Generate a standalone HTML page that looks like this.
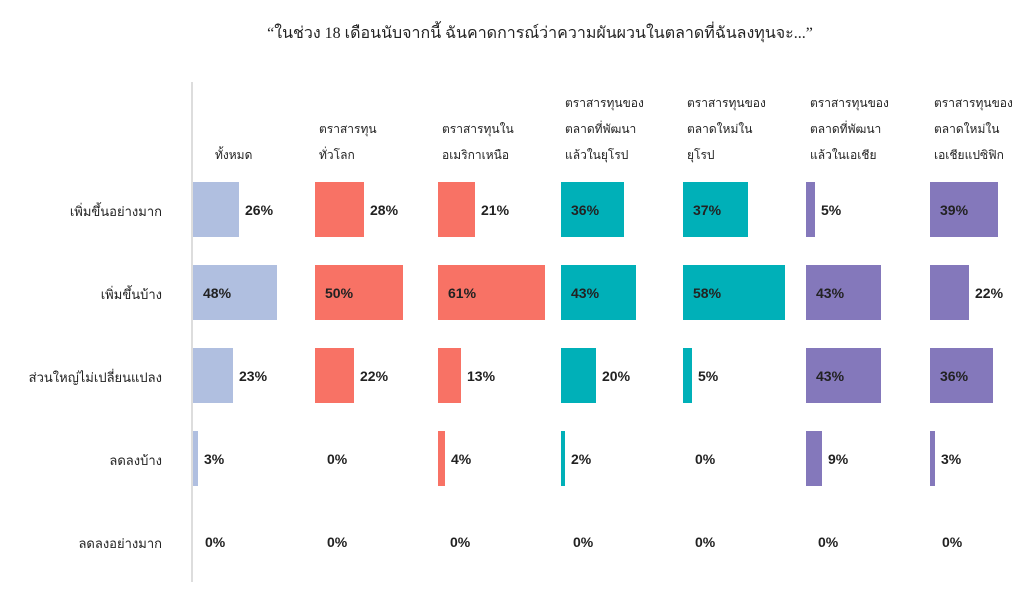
<!DOCTYPE html>
<html><head><meta charset="utf-8"><style>
body{margin:0;width:1024px;height:600px;background:#fff;position:relative;overflow:hidden;font-family:"Liberation Sans","DejaVu Sans",sans-serif;color:#222}
.t{position:absolute;white-space:nowrap}
.b{position:absolute;height:55px}
.v{position:absolute;font-size:14px;font-weight:bold;line-height:16px;color:#222}
.h{position:absolute;font-size:12px;line-height:26px;color:#222;bottom:432px;white-space:nowrap}
.r{position:absolute;right:862px;font-size:13px;color:#222;text-align:right;white-space:nowrap}
</style></head><body>
<div class="t" style="left:0;width:1080px;text-align:center;top:21px;font-size:16px;font-family:'Liberation Serif','DejaVu Serif',serif">“ในช่วง 18 เดือนนับจากนี้ ฉันคาดการณ์ว่าความผันผวนในตลาดที่ฉันลงทุนจะ...”</div>
<div style="position:absolute;left:191px;top:82px;width:2px;height:500px;background:#ddd"></div>
<div id="c"></div>
<script>
const cols=[193,315,438,561,683,806,930];
const colors=['#b0bfe0','#f87265','#f87265','#00b0b8','#00b0b8','#8478bb','#8478bb'];
const heads=['ทั้งหมด','ตราสารทุน<br>ทั่วโลก','ตราสารทุนใน<br>อเมริกาเหนือ','ตราสารทุนของ<br>ตลาดที่พัฒนา<br>แล้วในยุโรป','ตราสารทุนของ<br>ตลาดใหม่ใน<br>ยุโรป','ตราสารทุนของ<br>ตลาดที่พัฒนา<br>แล้วในเอเชีย','ตราสารทุนของ<br>ตลาดใหม่ใน<br>เอเชียแปซิฟิก'];
const rows=['เพิ่มขึ้นอย่างมาก','เพิ่มขึ้นบ้าง','ส่วนใหญ่ไม่เปลี่ยนแปลง','ลดลงบ้าง','ลดลงอย่างมาก'];
const tops=[182,265,348,431,514];
const data=[[26,48,23,3,0],[28,50,22,0,0],[21,61,13,4,0],[36,43,20,2,0],[37,58,5,0,0],[5,43,43,9,0],[39,22,36,3,0]];
let h='';
rows.forEach((r,i)=>{h+=`<div class="r" style="top:${tops[i]+19}px">${r}</div>`});
cols.forEach((x,c)=>{
 h+=`<div class="h" style="left:${x+(c==0?22:4)}px">${heads[c]}</div>`;
 data[c].forEach((v,i)=>{
  const w=Math.round(v*1.75);
  if(v>0) h+=`<div class="b" style="left:${x}px;top:${tops[i]}px;width:${Math.max(w,2)}px;background:${colors[c]}"></div>`;
  const inside=v>=30;
  const lx=v==0?x+12:(inside?x+10:x+w+6);
  h+=`<div class="v" style="left:${lx}px;top:${tops[i]+20}px">${v}%</div>`;
 });
});
document.getElementById('c').innerHTML=h;
</script>
</body></html>
